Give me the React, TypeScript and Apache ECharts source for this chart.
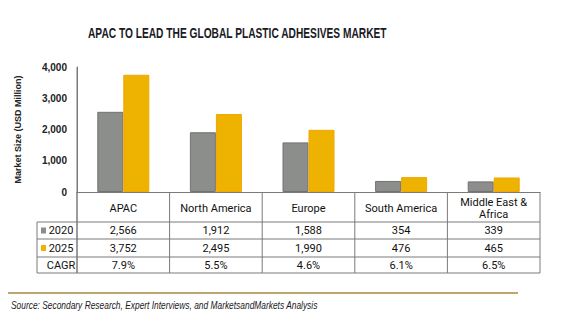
import React, { useEffect, useRef } from "react";
import * as echarts from "echarts";

const categories = ["APAC", "North America", "Europe", "South America", "Middle East &\nAfrica"];
const values2020 = [2566, 1912, 1588, 354, 339];
const values2025 = [3752, 2495, 1990, 476, 465];
const cagr = [7.9, 5.5, 4.6, 6.1, 6.5];
const yTicks = { min: 0, max: 4000, interval: 1000 };
const seriesNames = ["2020", "2025"];

const GRAY = "#8c8e8b";
const GOLD = "#edb300";
const LINE = "#7a7a7a";

export default function App() {
  const ref = useRef<HTMLDivElement>(null);
  useEffect(() => {
    if (!ref.current) return;
    const chart = echarts.init(ref.current, null, { renderer: "svg" });
    const gl = 77, gr = 540, gt = 67, gb = 192;
    const rows = [222, 239, 257, 273];
    const colW = (gr - gl) / categories.length;
    const fmt = (v: number) => v.toLocaleString("en-US");
    const tableFont = "Roboto";

    const lines: any[] = [];
    // horizontal row lines
    rows.forEach((y) => {
      lines.push({ type: "line", shape: { x1: 37, y1: y, x2: gr, y2: y }, style: { stroke: LINE, lineWidth: 1 } });
    });
    // vertical column lines
    for (let i = 0; i <= categories.length; i++) {
      const x = gl + i * colW;
      lines.push({ type: "line", shape: { x1: x, y1: gb, x2: x, y2: rows[3] }, style: { stroke: LINE, lineWidth: 1 } });
    }
    lines.push({ type: "line", shape: { x1: 37, y1: rows[0], x2: 37, y2: rows[3] }, style: { stroke: LINE, lineWidth: 1 } });

    const rowLabel = (y: number, text: string, color?: string) => {
      const items: any[] = [];
      if (color) {
        items.push({ type: "rect", shape: { x: 41, y: y - 3, width: 5, height: 6 }, style: { fill: color } });
      }
      items.push({
        type: "text",
        x: 61,
        y: y,
        style: { text, font: `11px ${tableFont}`, fill: "#111", align: "center", verticalAlign: "middle" },
      });
      return items;
    };

    const rowAxis = (data: string[], centerY: number) => ({
      type: "category",
      gridIndex: 0,
      position: "bottom",
      offset: centerY - gb,
      data,
      axisLine: { show: false },
      axisTick: { show: false },
      axisLabel: { interval: 0, margin: 0, verticalAlign: "middle", fontFamily: tableFont, fontSize: 11, color: "#111" },
    });

    chart.setOption({
      animation: false,
      grid: { left: gl, right: 561 - gr, top: gt, bottom: 328 - gb, containLabel: false },
      xAxis: [
        {
          type: "category",
          data: categories,
          axisLine: { lineStyle: { color: LINE, width: 1 } },
          axisTick: { show: false },
          axisLabel: {
            interval: 0,
            margin: 16,
            verticalAlign: "middle",
            fontFamily: tableFont,
            fontSize: 11,
            lineHeight: 12,
            color: "#111",
          },
        },
        rowAxis(values2020.map(fmt), (rows[0] + rows[1]) / 2),
        rowAxis(values2025.map(fmt), (rows[1] + rows[2]) / 2),
        rowAxis(cagr.map((v) => `${v.toFixed(1)}%`), (rows[2] + rows[3]) / 2),
      ],
      yAxis: {
        type: "value",
        min: yTicks.min,
        max: yTicks.max,
        interval: yTicks.interval,
        name: "Market Size (USD Million)",
        nameLocation: "middle",
        nameRotate: 90,
        nameGap: 55,
        nameTextStyle: { fontFamily: "Liberation Sans", fontWeight: "bold", fontSize: 9, color: "#222" },
        axisLine: { show: true, lineStyle: { color: LINE, width: 1 } },
        axisTick: { show: false },
        splitLine: { show: false },
        axisLabel: {
          margin: 10,
          fontFamily: "Liberation Sans",
          fontWeight: "bold",
          fontSize: 10,
          color: "#222",
          formatter: (v: number) => fmt(v),
        },
      },
      series: [
        {
          name: seriesNames[0],
          type: "bar",
          xAxisIndex: 0,
          data: values2020,
          barWidth: 26,
          barGap: "0%",
          itemStyle: { color: GRAY, borderColor: "#727272", borderWidth: 1 },
        },
        {
          name: seriesNames[1],
          type: "bar",
          xAxisIndex: 0,
          data: values2025,
          barWidth: 26,
          barGap: "0%",
          itemStyle: { color: GOLD, borderColor: "#f2a600", borderWidth: 1 },
        },
      ],
      graphic: [
        {
          type: "text",
          x: 88,
          y: 33,
          scaleX: 0.68,
          style: {
            text: "APAC TO LEAD THE GLOBAL PLASTIC ADHESIVES MARKET",
            font: "bold 15px 'Liberation Sans'",
            fill: "#1a1a24",
            verticalAlign: "middle",
          },
        },
        ...lines,
        { type: "line", shape: { x1: gl, y1: gt, x2: gl, y2: rows[3] }, style: { stroke: LINE, lineWidth: 1 } },
        ...rowLabel((rows[0] + rows[1]) / 2, seriesNames[0], GRAY),
        ...rowLabel((rows[1] + rows[2]) / 2, seriesNames[1], GOLD),
        ...rowLabel((rows[2] + rows[3]) / 2, "CAGR"),
        { type: "line", shape: { x1: 8, y1: 293, x2: 518, y2: 293 }, style: { stroke: "#a88a3f", lineWidth: 1.5 } },
        {
          type: "text",
          x: 11,
          y: 306,
          scaleX: 0.84,
          style: {
            text: "Source: Secondary Research, Expert Interviews, and MarketsandMarkets Analysis",
            font: "italic 10px 'Liberation Sans'",
            fill: "#1a1a1a",
            verticalAlign: "middle",
          },
        },
      ],
    });
    return () => chart.dispose();
  }, []);
  return <div ref={ref} style={{ position: "fixed", left: 0, top: 0, width: 561, height: 328, background: "#fff" }} />;
}
